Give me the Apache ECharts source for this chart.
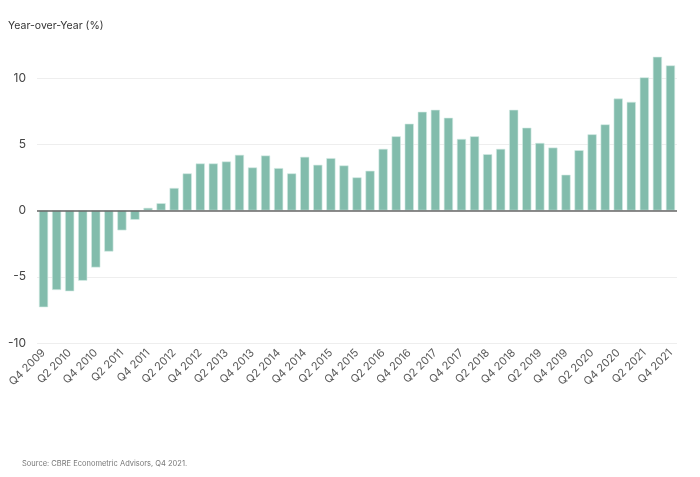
<!DOCTYPE html>
<html>
<head>
<meta charset="utf-8">
<script src="https://cdn.jsdelivr.net/npm/echarts@6/dist/echarts.min.js"></script>
<style>
  html, body { margin: 0; padding: 0; background: #fff; }
  #chart { width: 700px; height: 477px; }
</style>
</head>
<body>
<div id="chart"></div>
<script>
var quarters = [];
(function () {
    // Q4 2009 .. Q4 2021
    quarters.push('Q4 2009');
    for (var y = 2010; y <= 2021; y++) {
        for (var q = 1; q <= 4; q++) quarters.push('Q' + q + ' ' + y);
    }
})();

var yoyValues = [
    -7.3, -6.0, -6.1, -5.3, -4.3, -3.1, -1.5, -0.7,
    0.2, 0.55, 1.7, 2.8, 3.55, 3.55, 3.7, 4.2,
    3.25, 4.15, 3.2, 2.8, 4.05, 3.45, 3.95, 3.4,
    2.5, 3.0, 4.65, 5.6, 6.55, 7.45, 7.6, 7.0,
    5.4, 5.6, 4.25, 4.65, 7.6, 6.25, 5.1, 4.75,
    2.7, 4.55, 5.75, 6.5, 8.45, 8.2, 10.05, 11.6,
    10.95
];

var yTicks = [-10, -5, 0, 5, 10];

var myChart = echarts.init(document.getElementById('chart'));

var option = {
    animation: false,
    textStyle: { fontFamily: 'Inter' },
    graphic: [
        {
            type: 'text',
            left: 8,
            top: 20,
            style: { text: 'Year-over-Year (%)', fill: '#333', font: '10.5px Inter' }
        },
        {
            type: 'text',
            left: 22,
            top: 460,
            style: { text: 'Source: CBRE Econometric Advisors, Q4 2021.', fill: '#777', font: '7.5px Inter' }
        }
    ],
    grid: {
        left: 37,
        right: 23,
        top: 78,
        bottom: 134
    },
    xAxis: {
        type: 'category',
        data: quarters,
        axisLine: { show: false, onZero: false },
        axisTick: { show: false },
        axisLabel: {
            interval: 1,
            rotate: 45,
            margin: 8,
            color: '#5a5a5a',
            fontSize: 11
        }
    },
    yAxis: {
        type: 'value',
        min: yTicks[0],
        max: yTicks[yTicks.length - 1],
        interval: 5,
        axisLine: { show: false },
        axisTick: { show: false },
        axisLabel: { color: '#444', fontSize: 12, margin: 11 },
        splitLine: { lineStyle: { color: '#eeeeee', width: 1 } }
    },
    series: [
        {
            type: 'bar',
            data: yoyValues,
            barWidth: '70%',
            clip: false,
            itemStyle: {
                color: '#82bcac',
                borderColor: '#d4ebe4',
                borderWidth: 0.6
            },
            markLine: {
                silent: true,
                symbol: 'none',
                label: { show: false },
                lineStyle: { color: '#666', width: 1.5, type: 'solid' },
                data: [{ yAxis: 0 }]
            }
        }
    ]
};

myChart.setOption(option);
</script>
</body>
</html>
